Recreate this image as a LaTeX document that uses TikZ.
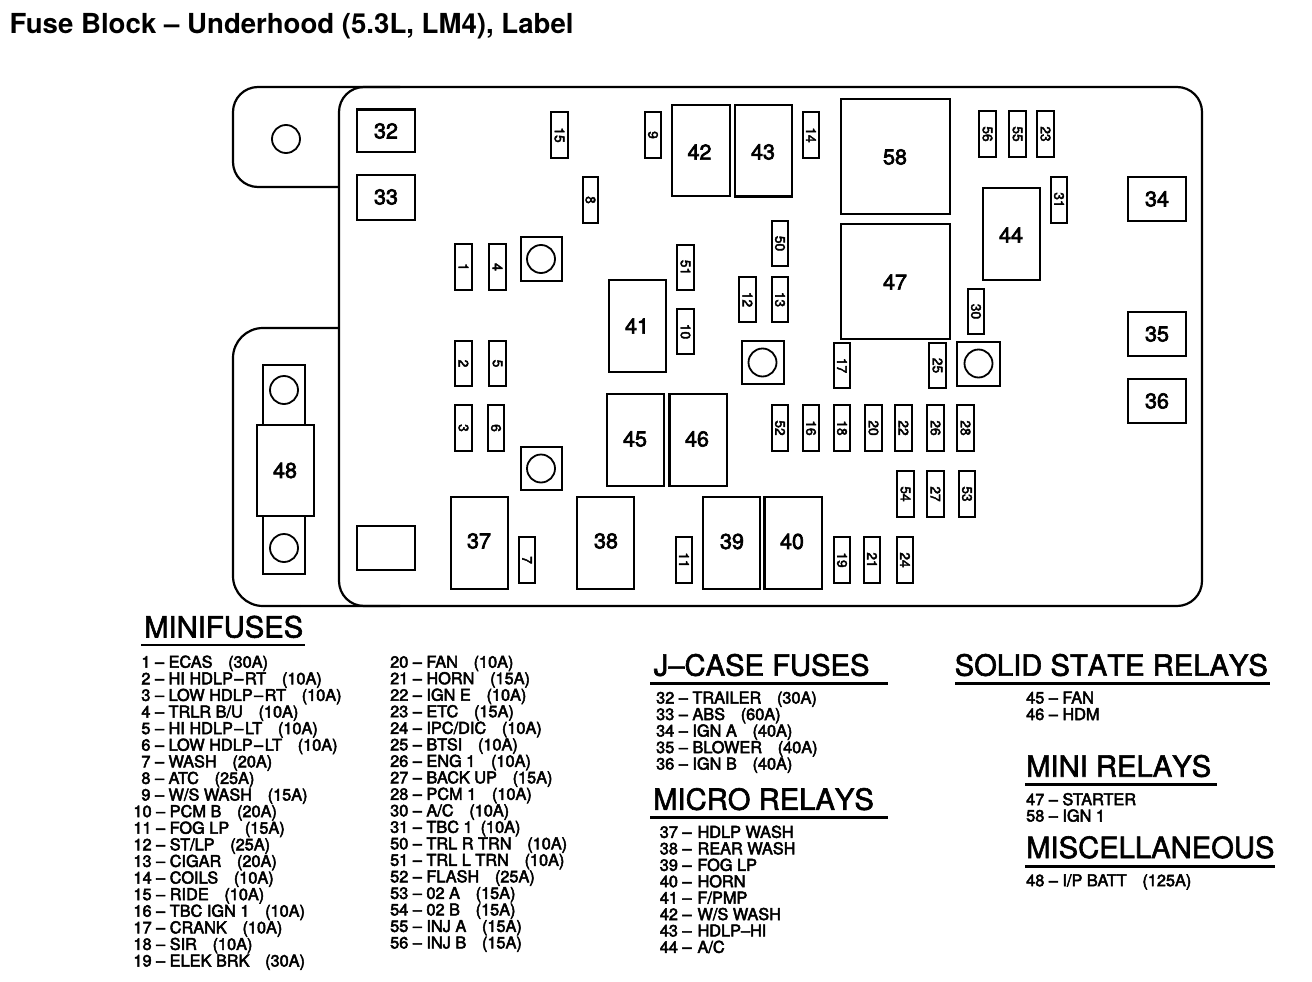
\documentclass[tikz,border=0pt]{standalone}
\usepackage{fontspec}
\setmainfont{TeX Gyre Heros}
\newfontfamily\thickfont[FakeBold=3]{TeX Gyre Heros}
\newfontfamily\headfont[FakeBold=2,Kerning=Off]{TeX Gyre Heros}
\newcommand{\listgap}{\hspace{15.7pt}}
\newcommand{\widedash}{\hspace{1.5pt}–\hspace{1.5pt}}
\tikzset{
  outl/.style={draw=black,line width=2.2pt,line join=round},
  boxb/.style={draw=black,line width=2.1pt,inner sep=0pt,outer sep=0pt,fill=white},
  relnum/.style={inner sep=0pt,font=\thickfont\fontsize{21.5}{21.5}\selectfont},
  fusenum/.style={inner sep=0pt,rotate=-90,font=\thickfont\fontsize{13.8}{13.8}\selectfont},
  holeb/.style={circle,draw=black,line width=1.8pt,minimum size=28pt,inner sep=0pt},
  lst/.style={anchor=base west,inner sep=0pt,font=\thickfont\fontsize{16.3}{16.3}\selectfont},
  hd/.style={anchor=base west,inner sep=0pt,font=\headfont\fontsize{29.2}{29.2}\selectfont},
  rulel/.style={draw=black,line width=2.6pt}
}
% \relay{id}{x1}{y1}{x2}{y2}{lx}{ly}{text}
\newcommand{\relay}[8]{%
  \node[boxb,minimum width={(#4-#2)*1pt},minimum height={(#5-#3)*1pt}] (b#1) at ({(#2+#4)/2},{(#3+#5)/2}) {};
  \node[relnum] (t#1) at (#6,#7) {#8};}
% \fuseb{id}{x1}{y1}{x2}{y2}
\newcommand{\fuseb}[5]{%
  \node[boxb,minimum width={(#4-#2)*1pt},minimum height={(#5-#3)*1pt}] (f#1) at ({(#2+#4)/2},{(#3+#5)/2}) {};
  \node[fusenum] (n#1) at (f#1.center) {#1};}
% \sqhole{id}{x1}{y1}{x2}{y2}{cx}{cy}
\newcommand{\sqhole}[7]{%
  \node[boxb,minimum width={(#4-#2)*1pt},minimum height={(#5-#3)*1pt}] (s#1) at ({(#2+#4)/2},{(#3+#5)/2}) {};
  \node[holeb] (h#1) at (#6,#7) {};}
\newcommand{\listln}[4]{\node[lst] (l#1) at (#2,#3) {#4};}
% \hdg{id}{x}{y}{text}{rx1}{rx2}{ry}
\newcommand{\hdg}[7]{%
  \node[hd] (hd#1) at (#2,#3) {#4};
  \coordinate (ra#1) at (#5,#7);
  \coordinate (rb#1) at (#6,#7);
  \draw[rulel] (ra#1) -- (rb#1);}
\begin{document}
\begin{tikzpicture}[x=1pt,y=-1pt]
\useasboundingbox (0,0) rectangle (1312,982);
\fill[white] (0,0) rectangle (1312,982);
\node[anchor=base west,inner sep=0pt,font=\bfseries\fontsize{27.6}{27.6}\selectfont] (title) at (9.5,33.5) {Fuse Block – Underhood (5.3L, LM4), Label};
% housing
\draw[outl,rounded corners=25pt] (339,87) -- (233,87) -- (233,187) -- (339,187);
\draw[outl,rounded corners=30pt] (339,328) -- (233,328) -- (233,606) -- (300,606);
\draw[outl,rounded corners=25pt] (400,606) -- (339,606) -- (339,87) -- (400,87);
\draw[outl,rounded corners=25pt] (300,606) -- (1202,606) -- (1202,87) -- (339,87);
\node[holeb] (htab) at (286,139) {};
% maxi fuse 48
\node[boxb,minimum width=42pt,minimum height=60pt] (t48a) at (284,395) {};
\node[boxb,minimum width=42pt,minimum height=58pt] (t48b) at (284,545) {};
\node[holeb] (h48a) at (284,390) {};
\node[holeb] (h48b) at (284,548) {};
\relay{48}{257}{425}{314}{516}{285}{470.5}{48}
% J-case
\relay{32}{357}{109.5}{415}{152}{386}{131}{32}
\relay{33}{357}{175}{415}{220}{386}{197}{33}
\relay{34}{1128}{177}{1186}{221}{1157}{199}{34}
\relay{35}{1128}{312}{1186}{356}{1157}{334}{35}
\relay{36}{1128}{379}{1186}{423}{1157}{401}{36}
\node[boxb,minimum width=58pt,minimum height=44pt] (blank) at (386,548) {};
% relays
\relay{42}{672}{105}{730}{196}{699.5}{152}{42}
\relay{43}{735}{105}{792}{196.5}{763}{152}{43}
\relay{58}{841}{99}{950}{214}{895}{157}{58}
\relay{47}{841}{224}{950}{339}{895}{282}{47}
\relay{44}{983}{188}{1040}{280}{1011}{235}{44}
\relay{41}{609}{280}{666}{372}{637}{326}{41}
\relay{45}{607}{394}{664}{486}{635}{439}{45}
\relay{46}{669.5}{394}{727}{486}{697}{439}{46}
\relay{37}{451}{497}{508}{589}{479}{541}{37}
\relay{38}{577}{497}{634}{589}{606}{541}{38}
\relay{39}{703}{497}{760}{589}{732}{541.5}{39}
\relay{40}{764.5}{497}{822}{589}{792}{541.5}{40}
% holes
\sqhole{a}{521}{237}{562}{281}{541}{259}
\sqhole{b}{521}{447}{562}{490}{541}{468.5}
\sqhole{c}{742}{341}{784}{384}{762.5}{362.5}
\sqhole{d}{957}{342}{1000}{386}{978.5}{363.5}
% minifuses
\fuseb{15}{551}{112}{568}{158}
\fuseb{9}{645}{112}{661}{158}
\fuseb{14}{803}{112}{819}{158}
\fuseb{56}{979}{111}{996}{157}
\fuseb{55}{1009}{111}{1026}{157}
\fuseb{23}{1037}{111}{1054}{157}
\fuseb{31}{1051}{177}{1067}{223}
\fuseb{8}{583}{177}{598}{223}
\fuseb{1}{455}{244}{472}{290}
\fuseb{4}{489}{244}{506}{290}
\fuseb{51}{677}{245}{694}{290}
\fuseb{10}{677}{309}{694}{354}
\fuseb{50}{772}{221}{788}{266}
\fuseb{12}{739}{277}{756}{322}
\fuseb{13}{772}{277}{788}{322}
\fuseb{30}{968}{289}{984}{334}
\fuseb{2}{455}{341}{472}{386}
\fuseb{5}{489}{341}{506}{386}
\fuseb{3}{455}{405}{472}{451}
\fuseb{6}{488}{405}{504}{451}
\fuseb{17}{834}{343}{850}{388}
\fuseb{25}{929}{343}{946}{388}
\fuseb{52}{772}{405}{788}{451}
\fuseb{16}{803}{405}{819}{451}
\fuseb{18}{834}{405}{850}{451}
\fuseb{20}{865}{405}{882}{451}
\fuseb{22}{895}{405}{912}{451}
\fuseb{26}{927}{405}{944}{451}
\fuseb{28}{957}{405}{974}{451}
\fuseb{54}{897}{471}{914}{517}
\fuseb{27}{927}{471}{944}{517}
\fuseb{53}{959}{471}{975}{517}
\fuseb{7}{519}{537}{535}{583}
\fuseb{11}{676}{537}{692}{583}
\fuseb{19}{834}{537}{850}{583}
\fuseb{21}{864}{537}{880}{583}
\fuseb{24}{897}{537}{913}{583}
% legends
\hdg{mf}{144}{637.5}{MINIFUSES}{141}{305}{645}
\listln{1}{141.2}{667.7}{1 – ECAS\listgap(30A)}
\listln{2}{141.2}{684.3}{2 – HI HDLP\widedash RT\listgap(10A)}
\listln{3}{141.2}{700.9}{3 – LOW HDLP\widedash RT\listgap(10A)}
\listln{4}{141.2}{717.5}{4 – TRLR B/U\listgap(10A)}
\listln{5}{141.2}{734.1}{5 – HI HDLP\widedash LT\listgap(10A)}
\listln{6}{141.2}{750.7}{6 – LOW HDLP\widedash LT\listgap(10A)}
\listln{7}{141.2}{767.3}{7 – WASH\listgap(20A)}
\listln{8}{141.2}{783.9}{8 – ATC\listgap(25A)}
\listln{9}{141.2}{800.5}{9 – W/S WASH\listgap(15A)}
\listln{10}{133.3}{817.1}{10 – PCM B\listgap(20A)}
\listln{11}{133.3}{833.7}{11 – FOG LP\listgap(15A)}
\listln{12}{133.3}{850.3}{12 – ST/LP\listgap(25A)}
\listln{13}{133.3}{866.9}{13 – CIGAR\listgap(20A)}
\listln{14}{133.3}{883.5}{14 – COILS\listgap(10A)}
\listln{15}{133.3}{900.1}{15 – RIDE\listgap(10A)}
\listln{16}{133.3}{916.7}{16 – TBC IGN 1\listgap(10A)}
\listln{17}{133.3}{933.3}{17 – CRANK\listgap(10A)}
\listln{18}{133.3}{949.9}{18 – SIR\listgap(10A)}
\listln{19}{133.3}{966.5}{19 – ELEK BRK\listgap(30A)}
\listln{20}{390}{667.7}{20 – FAN\listgap(10A)}
\listln{21}{390}{684.2}{21 – HORN\listgap(15A)}
\listln{22}{390}{700.7}{22 – IGN E\listgap(10A)}
\listln{23}{390}{717.2}{23 – ETC\listgap(15A)}
\listln{24}{390}{733.8}{24 – IPC/DIC\listgap(10A)}
\listln{25}{390}{750.3}{25 – BTSI\listgap(10A)}
\listln{26}{390}{766.8}{26 – ENG 1\listgap(10A)}
\listln{27}{390}{783.3}{27 – BACK UP\listgap(15A)}
\listln{28}{390}{799.8}{28 – PCM 1\listgap(10A)}
\listln{30}{390}{816.3}{30 – A/C\listgap(10A)}
\listln{31}{390}{832.8}{31 – TBC 1\hspace{8pt}(10A)}
\listln{50}{390}{849.3}{50 – TRL R TRN\listgap(10A)}
\listln{51}{390}{865.8}{51 – TRL L TRN\listgap(10A)}
\listln{52}{390}{882.3}{52 – FLASH\listgap(25A)}
\listln{53}{390}{898.9}{53 – 02 A\listgap(15A)}
\listln{54}{390}{915.4}{54 – 02 B\listgap(15A)}
\listln{55}{390}{931.9}{55 – INJ A\listgap(15A)}
\listln{56}{390}{948.4}{56 – INJ B\listgap(15A)}
\hdg{jc}{653.5}{675.7}{J–CASE FUSES}{650}{888}{683.3}
\listln{32}{656}{703.5}{32 – TRAILER\listgap(30A)}
\listln{33}{656}{720}{33 – ABS\listgap(60A)}
\listln{34}{656}{736.5}{34 – IGN A\listgap(40A)}
\listln{35}{656}{753.1}{35 – BLOWER\listgap(40A)}
\listln{36}{656}{769.5}{36 – IGN B\listgap(40A)}
\hdg{mc}{653}{809.8}{MICRO RELAYS}{650}{888}{817.3}
\listln{37}{659.6}{837.8}{37 –\hspace{6pt}HDLP WASH}
\listln{38}{659.6}{854.3}{38 –\hspace{6pt}REAR WASH}
\listln{39}{659.6}{870.8}{39 –\hspace{6pt}FOG LP}
\listln{40}{659.6}{887.2}{40 –\hspace{6pt}HORN}
\listln{41}{659.6}{903.6}{41 –\hspace{6pt}F/PMP}
\listln{42}{659.6}{920}{42 –\hspace{6pt}W/S WASH}
\listln{43}{659.6}{936.4}{43 –\hspace{6pt}HDLP–HI}
\listln{44}{659.6}{952.8}{44 –\hspace{6pt}A/C}
\hdg{ss}{954.5}{675.7}{SOLID STATE RELAYS}{955.4}{1270}{683.3}
\listln{45}{1026}{703.5}{45 – FAN}
\listln{46}{1026}{720}{46 – HDM}
\hdg{mr}{1026}{776.7}{MINI RELAYS}{1025.4}{1217}{784.3}
\listln{47}{1026}{805.2}{47 – STARTER}
\listln{58}{1026}{821.5}{58 – IGN 1}
\hdg{ms}{1026}{858}{MISCELLANEOUS}{1025.4}{1275}{866.7}
\listln{48}{1026}{886.2}{48 – I/P BATT\listgap(125A)}
\end{tikzpicture}
\end{document}
